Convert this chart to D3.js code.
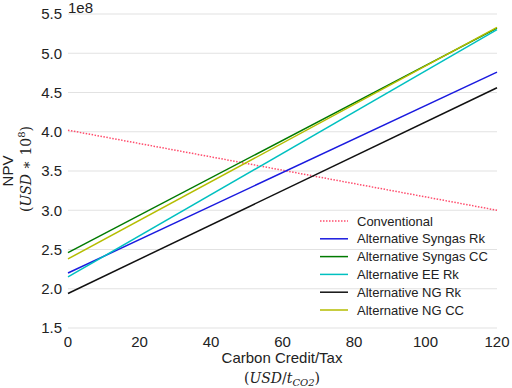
<!DOCTYPE html>
<html>
<head>
<meta charset="utf-8">
<script src="https://cdn.jsdelivr.net/npm/d3@7"></script>
<style>
  body { margin: 0; background: #fff; }
  text { font-family: "Liberation Sans", Arial, sans-serif; fill: #222; }
  .math { font-family: "DejaVu Serif", serif; font-style: italic; }
</style>
</head>
<body>
<div id="chart"></div>
<script>
// carbon credit (USD/t) at both ends of each line
var carbonCredit = [0, 120];

// NPV values in units of 1e8 USD
var seriesNames = ["Conventional", "Alternative Syngas Rk", "Alternative Syngas CC",
    "Alternative EE Rk", "Alternative NG Rk", "Alternative NG CC"];
var conventional = [4.02, 3.00];
var syngasRk = [2.20, 4.76];
var syngasCC = [2.46, 5.32];
var eeRk = [2.15, 5.30];
var ngRk = [1.94, 4.56];
var ngCC = [2.38, 5.33];

var yTicks = [1.5, 2.0, 2.5, 3.0, 3.5, 4.0, 4.5, 5.0, 5.5];
var xTicks = [0, 20, 40, 60, 80, 100, 120];

var colors = ["#ff4d6d", "#1a1adf", "#007a00", "#00c0c0", "#111111", "#b5bd00"];
var seriesValues = [conventional, syngasRk, syngasCC, eeRk, ngRk, ngCC];

var width = 512, height = 388;

var svg = d3.select("#chart")
    .append("svg")
    .attr("width", width)
    .attr("height", height);

var x = d3.scaleLinear().domain([0, 120]).range([68, 497]);
var y = d3.scaleLinear().domain([1.5, 5.5]).range([328, 14]);

// grid
svg.append("g")
    .selectAll("line")
    .data(yTicks)
    .enter()
    .append("line")
    .attr("x1", x(0))
    .attr("x2", x(120))
    .attr("y1", function (d) { return y(d); })
    .attr("y2", function (d) { return y(d); })
    .attr("stroke", "#e2e2e2")
    .attr("stroke-width", 1.2);

// y tick labels
svg.append("g")
    .selectAll("text")
    .data(yTicks)
    .enter()
    .append("text")
    .attr("x", 62)
    .attr("y", function (d) { return y(d); })
    .attr("dy", "0.35em")
    .attr("text-anchor", "end")
    .style("font-size", "15px")
    .text(function (d) { return d.toFixed(1); });

// x tick labels
svg.append("g")
    .selectAll("text")
    .data(xTicks)
    .enter()
    .append("text")
    .attr("x", function (d) { return x(d); })
    .attr("y", 347)
    .attr("text-anchor", "middle")
    .style("font-size", "15px")
    .text(function (d) { return d; });

svg.append("text")
    .attr("x", 68)
    .attr("y", 13)
    .style("font-size", "15px")
    .text("1e8");

// lines
var line = d3.line()
    .x(function (d, i) { return x(carbonCredit[i]); })
    .y(function (d) { return y(d); });

svg.append("g")
    .selectAll("path")
    .data(seriesValues)
    .enter()
    .append("path")
    .attr("d", line)
    .attr("fill", "none")
    .attr("stroke", function (d, i) { return colors[i]; })
    .attr("stroke-width", 1.5)
    .attr("stroke-dasharray", function (d, i) { return i === 0 ? "1.5,1.5" : null; });

// legend
var legend = svg.append("g")
    .selectAll("g")
    .data(seriesNames)
    .enter()
    .append("g")
    .attr("transform", function (d, i) { return "translate(320," + (221 + i * 17.8) + ")"; });

legend.append("line")
    .attr("x1", 0)
    .attr("x2", 28)
    .attr("stroke", function (d, i) { return colors[i]; })
    .attr("stroke-width", 1.5)
    .attr("stroke-dasharray", function (d, i) { return i === 0 ? "1.5,1.5" : null; });

legend.append("text")
    .attr("x", 37)
    .attr("dy", "0.35em")
    .style("font-size", "13px")
    .text(function (d) { return d; });

// axis labels
svg.append("text")
    .attr("transform", "translate(13,171) rotate(-90)")
    .attr("text-anchor", "middle")
    .style("font-size", "15px")
    .text("NPV");

var yl = svg.append("text")
    .attr("class", "math")
    .attr("transform", "translate(31,169) rotate(-90)")
    .attr("text-anchor", "middle")
    .style("font-size", "14px");
yl.append("tspan").style("font-style", "normal").text("(");
yl.append("tspan").text("USD");
yl.append("tspan").style("font-style", "normal").text(" \u2217 10");
yl.append("tspan").style("font-style", "normal").style("font-size", "10px").attr("dy", "-6").text("8");
yl.append("tspan").style("font-style", "normal").attr("dy", "6").text(")");

svg.append("text")
    .attr("x", 282)
    .attr("y", 363)
    .attr("text-anchor", "middle")
    .style("font-size", "15px")
    .text("Carbon Credit/Tax");

var xl = svg.append("text")
    .attr("class", "math")
    .attr("x", 282)
    .attr("y", 383)
    .attr("text-anchor", "middle")
    .style("font-size", "14px");
xl.append("tspan").style("font-style", "normal").text("(");
xl.append("tspan").text("USD");
xl.append("tspan").style("font-style", "normal").text("/");
xl.append("tspan").text("t");
xl.append("tspan").style("font-size", "10px").attr("dy", "3").text("CO2");
xl.append("tspan").style("font-style", "normal").attr("dy", "-3").text(")");
</script>
</body>
</html>
